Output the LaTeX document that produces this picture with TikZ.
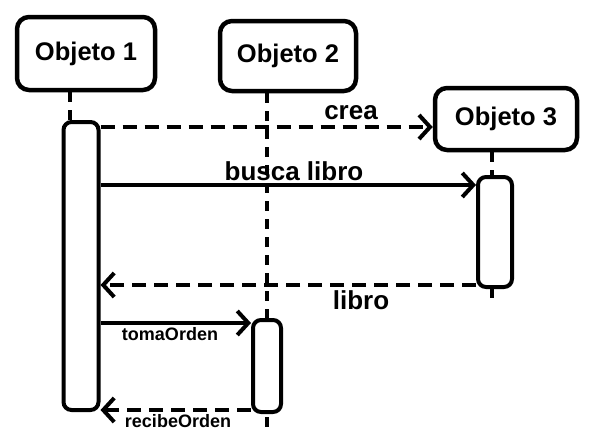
\documentclass[tikz,border=0pt]{standalone}
\usepackage{fontspec}
\setmainfont{Liberation Sans}
\usetikzlibrary{arrows.meta}
\tikzset{
  obj/.style={draw, line width=4.5pt, rounded corners=12pt, fill=white, font=\fontsize{25.5}{28}\selectfont\bfseries},
  act/.style={draw, line width=4pt, rounded corners=8pt, fill=white, inner sep=0pt},
  life/.style={line width=4pt, dash pattern=on 10pt off 8pt},
  msg/.style={line width=4pt, -{Straight Barb[length=11pt,width=24pt]}},
  ret/.style={msg, dash pattern=on 14pt off 8pt},
  lbl/.style={font=\fontsize{26}{28}\selectfont\bfseries, inner sep=0pt},
  slbl/.style={font=\fontsize{18}{20}\selectfont\bfseries, inner sep=0pt}
}
\begin{document}
\begin{tikzpicture}[x=1pt,y=-1pt]
\useasboundingbox (0,0) rectangle (595,431);
% objects
\node[obj, minimum width=138pt, minimum height=73pt] (o1) at (86,53.5) {Objeto 1};
\node[obj, minimum width=136pt, minimum height=70pt] (o2) at (288,56) {Objeto 2};
\node[obj, minimum width=142pt, minimum height=62pt] (o3) at (506,119) {Objeto 3};
% lifeline ends
\coordinate (l1) at (70,122);
\coordinate (l2) at (267,428);
\coordinate (l3) at (492,298);
% lifelines
\draw[life] (o1.south -| l1) -- (l1);
\draw[life] (o2.south -| l2) -- (l2);
\draw[life] (o3.south -| l3) -- (l3 |- 0,180);
\draw[line width=4pt] (l3 |- 0,280) -- (l3);
% activations
\node[act, minimum width=35pt, minimum height=288pt] (a1) at (81,266) {};
\node[act, minimum width=28pt, minimum height=92pt] (a2) at (267,366) {};
\node[act, minimum width=34pt, minimum height=110pt] (a3) at (495,232) {};
% messages
\draw[ret] (a1.east |- 0,127) -- (o3.west |- 0,127);
\draw[msg] (a1.east |- 0,185) -- (a3.west |- 0,185);
\draw[ret] (a3.west |- 0,285) -- (a1.east |- 0,285);
\draw[msg] (a1.east |- 0,323) -- (a2.west |- 0,323);
\draw[ret] (a2.west |- 0,410) -- (a1.east |- 0,410);
% labels
\node[lbl] (t1) at (351,113) {crea};
\node[lbl] (t2) at (294,171) {busca libro};
\node[lbl] (t3) at (361,300) {libro};
\node[slbl] (t4) at (170,334) {tomaOrden};
\node[slbl] (t5) at (178,421) {recibeOrden};
\end{tikzpicture}
\end{document}
